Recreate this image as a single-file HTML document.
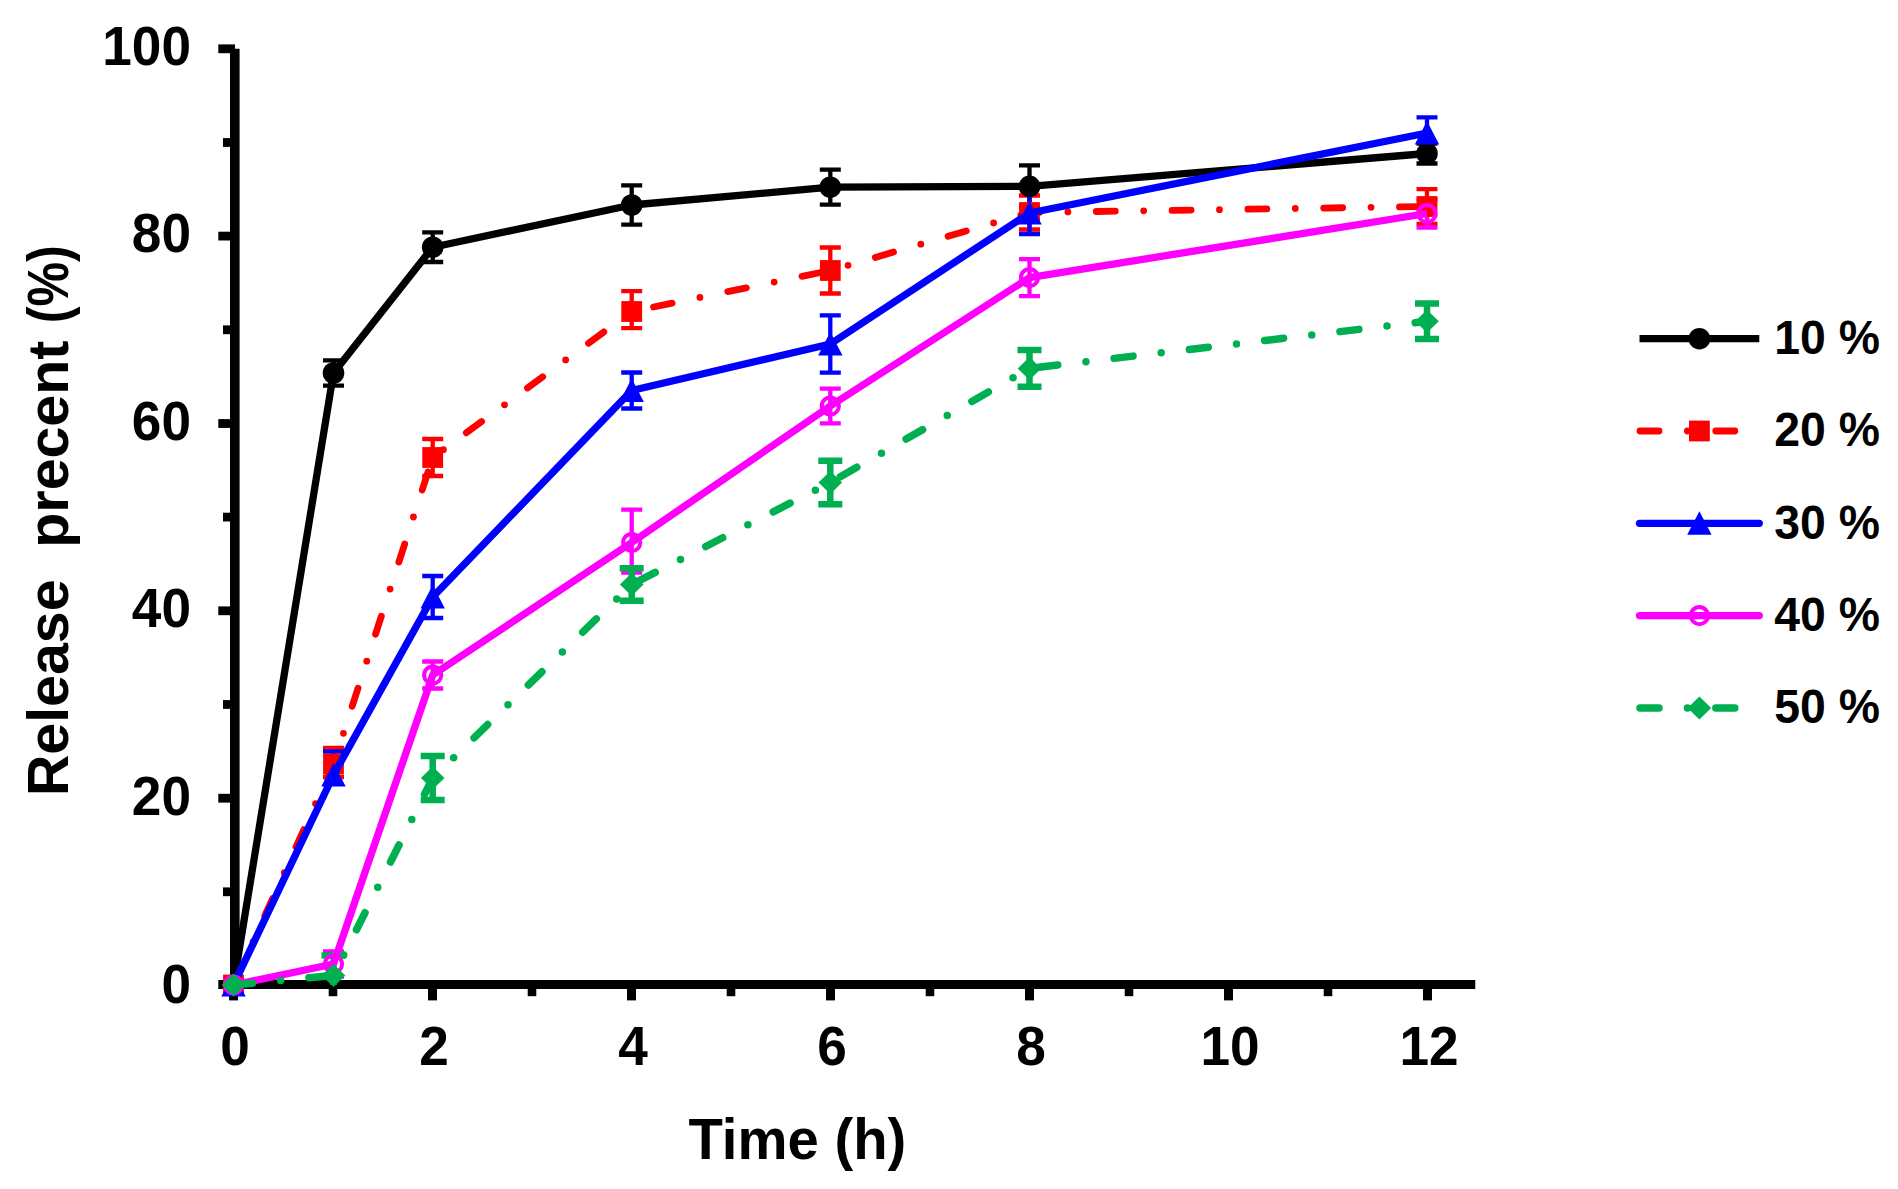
<!DOCTYPE html>
<html lang="en"><head><meta charset="utf-8"><title>Release percent vs time</title>
<style>html,body{margin:0;padding:0;background:#fff}svg{display:block}text{font-family:"Liberation Sans",Arial,Helvetica,sans-serif;font-weight:700;fill:#000}</style>
</head><body>
<svg width="1898" height="1189" viewBox="0 0 1898 1189">
<rect width="1898" height="1189" fill="#fff"/>
<defs><clipPath id="plot"><rect x="200" y="0" width="1400" height="985"/></clipPath></defs>
<g stroke="#000" fill="none">
<line x1="234.8" y1="48.8" x2="234.8" y2="989" stroke-width="9.6"/>
<line x1="218.3" y1="984.5" x2="1475.3" y2="984.5" stroke-width="8.8"/>
<line x1="223" y1="891.8" x2="235" y2="891.8" stroke-width="8.8"/>
<line x1="218.3" y1="798.2" x2="235" y2="798.2" stroke-width="8.8"/>
<line x1="223" y1="704.5" x2="235" y2="704.5" stroke-width="8.8"/>
<line x1="218.3" y1="610.8" x2="235" y2="610.8" stroke-width="8.8"/>
<line x1="223" y1="517.1" x2="235" y2="517.1" stroke-width="8.8"/>
<line x1="218.3" y1="423.5" x2="235" y2="423.5" stroke-width="8.8"/>
<line x1="223" y1="329.8" x2="235" y2="329.8" stroke-width="8.8"/>
<line x1="218.3" y1="236.1" x2="235" y2="236.1" stroke-width="8.8"/>
<line x1="223" y1="142.5" x2="235" y2="142.5" stroke-width="8.8"/>
<line x1="218.3" y1="48.8" x2="235" y2="48.8" stroke-width="8.8"/>
<line x1="233.5" y1="984" x2="233.5" y2="1000.4" stroke-width="9"/>
<line x1="333.0" y1="984" x2="333.0" y2="996.2" stroke-width="8.6"/>
<line x1="432.5" y1="984" x2="432.5" y2="1000.4" stroke-width="9"/>
<line x1="532.0" y1="984" x2="532.0" y2="996.2" stroke-width="8.6"/>
<line x1="631.5" y1="984" x2="631.5" y2="1000.4" stroke-width="9"/>
<line x1="731.0" y1="984" x2="731.0" y2="996.2" stroke-width="8.6"/>
<line x1="830.5" y1="984" x2="830.5" y2="1000.4" stroke-width="9"/>
<line x1="930.0" y1="984" x2="930.0" y2="996.2" stroke-width="8.6"/>
<line x1="1029.5" y1="984" x2="1029.5" y2="1000.4" stroke-width="9"/>
<line x1="1129.0" y1="984" x2="1129.0" y2="996.2" stroke-width="8.6"/>
<line x1="1228.5" y1="984" x2="1228.5" y2="1000.4" stroke-width="9"/>
<line x1="1328.0" y1="984" x2="1328.0" y2="996.2" stroke-width="8.6"/>
<line x1="1427.5" y1="984" x2="1427.5" y2="1000.4" stroke-width="9"/>
</g>
<g font-size="54" text-anchor="end">
<text transform="translate(191,64.5) scale(0.985,1.025)">100</text>
<text transform="translate(191,252.1) scale(0.985,1.025)">80</text>
<text transform="translate(191,439.7) scale(0.985,1.025)">60</text>
<text transform="translate(191,627.3) scale(0.985,1.025)">40</text>
<text transform="translate(191,814.9) scale(0.985,1.025)">20</text>
<text transform="translate(191,1002.5) scale(0.985,1.025)">0</text>
</g>
<g font-size="54" text-anchor="middle">
<text transform="translate(235.1,1065.0) scale(0.985,1.025)">0</text>
<text transform="translate(434.1,1065.0) scale(0.985,1.025)">2</text>
<text transform="translate(633.1,1065.0) scale(0.985,1.025)">4</text>
<text transform="translate(832.1,1065.0) scale(0.985,1.025)">6</text>
<text transform="translate(1031.1,1065.0) scale(0.985,1.025)">8</text>
<text transform="translate(1230.1,1065.0) scale(0.985,1.025)">10</text>
<text transform="translate(1429.1,1065.0) scale(0.985,1.025)">12</text>
</g>
<text transform="translate(797.4,1158.9) scale(1.005,1.02)" font-size="56" text-anchor="middle">Time (h)</text>
<text transform="translate(67.8,796) rotate(-90) scale(1.023,1.04)" font-size="56" xml:space="preserve">Release  precent</text>
<text transform="translate(67.8,245.2) rotate(-90) scale(0.895,1.03)" font-size="56" text-anchor="end">(%)</text>
<g clip-path="url(#plot)">
<g stroke="#000000" stroke-width="4.3" fill="none">
<path d="M333.5 360.4V385.6M323.0 360.4H344.0M323.0 385.6H344.0"/>
<path d="M432.7 232.4V262.0M422.2 232.4H443.2M422.2 262.0H443.2"/>
<path d="M631.7 185.3V224.7M621.2 185.3H642.2M621.2 224.7H642.2"/>
<path d="M830.3 169.7V204.7M819.8 169.7H840.8M819.8 204.7H840.8"/>
<path d="M1029.5 165.4V207.4M1019.0 165.4H1040.0M1019.0 207.4H1040.0"/>
<path d="M1427.0 143.5V163.5M1416.5 143.5H1437.5M1416.5 163.5H1437.5"/>
</g>
<g stroke="#ff0000" stroke-width="4.3" fill="none">
<path d="M333.5 748.0V777.0M323.0 748.0H344.0M323.0 777.0H344.0"/>
<path d="M432.7 439.0V476.0M422.2 439.0H443.2M422.2 476.0H443.2"/>
<path d="M631.7 291.2V328.2M621.2 291.2H642.2M621.2 328.2H642.2"/>
<path d="M830.3 247.5V293.5M819.8 247.5H840.8M819.8 293.5H840.8"/>
<path d="M1029.5 195.5V229.5M1019.0 195.5H1040.0M1019.0 229.5H1040.0"/>
<path d="M1427.0 189.2V223.8M1416.5 189.2H1437.5M1416.5 223.8H1437.5"/>
</g>
<g stroke="#0000ff" stroke-width="4.3" fill="none">
<path d="M333.5 751.5V775.0M323.0 751.5H344.0"/>
<path d="M432.7 576.0V618.0M422.2 576.0H443.2M422.2 618.0H443.2"/>
<path d="M631.7 372.5V408.5M621.2 372.5H642.2M621.2 408.5H642.2"/>
<path d="M830.3 315.4V372.6M819.8 315.4H840.8M819.8 372.6H840.8"/>
<path d="M1029.5 192.0V234.0M1019.0 234.0H1040.0"/>
<path d="M1427.0 117.4V133.0M1416.5 117.4H1437.5"/>
</g>
<g stroke="#ff00ff" stroke-width="4.3" fill="none">
<path d="M333.5 951.5V976.5M323.0 951.5H344.0M323.0 976.5H344.0"/>
<path d="M432.7 661.5V688.5M422.2 661.5H443.2M422.2 688.5H443.2"/>
<path d="M631.7 509.7V572.5M621.2 509.7H642.2M621.2 572.5H642.2"/>
<path d="M830.3 388.6V423.4M819.8 388.6H840.8M819.8 423.4H840.8"/>
<path d="M1029.5 259.1V296.1M1019.0 259.1H1040.0M1019.0 296.1H1040.0"/>
<path d="M1427.0 199.5V227.5M1416.5 199.5H1437.5M1416.5 227.5H1437.5"/>
</g>
<g stroke="#00b050" stroke-width="6.5" fill="none">
<path d="M333.5 955.4V995.4M321.5 955.4H345.5M321.5 995.4H345.5"/>
<path d="M432.7 756.0V800.0M420.7 756.0H444.7M420.7 800.0H444.7"/>
<path d="M631.7 568.3V600.7M619.7 568.3H643.7M619.7 600.7H643.7"/>
<path d="M830.3 460.7V504.3M818.3 460.7H842.3M818.3 504.3H842.3"/>
<path d="M1029.5 350.0V386.8M1017.5 350.0H1041.5M1017.5 386.8H1041.5"/>
<path d="M1427.0 303.6V339.0M1415.0 303.6H1439.0M1415.0 339.0H1439.0"/>
</g>
</g>
<polyline points="233.5,985 333.5,373 432.7,247.2 631.7,205 830.3,187.2 1029.5,186.4 1427.0,153.5" fill="none" stroke="#000000" stroke-width="7.3" stroke-linejoin="round"/>
<circle cx="233.5" cy="985" r="10.8" fill="#000000"/>
<circle cx="333.5" cy="373" r="10.8" fill="#000000"/>
<circle cx="432.7" cy="247.2" r="10.8" fill="#000000"/>
<circle cx="631.7" cy="205" r="10.8" fill="#000000"/>
<circle cx="830.3" cy="187.2" r="10.8" fill="#000000"/>
<circle cx="1029.5" cy="186.4" r="10.8" fill="#000000"/>
<circle cx="1427.0" cy="153.5" r="10.8" fill="#000000"/>
<polyline points="233.5,985 333.5,764 432.7,457.5 631.7,311.5 830.3,270.5 1029.5,212.5 1427.0,206.5" fill="none" stroke="#ff0000" stroke-width="6.8" stroke-linejoin="round" stroke-dasharray="19 28.4 0 28.4" stroke-linecap="round"/>
<rect x="223.1" y="974.6" width="20.8" height="20.8" fill="#ff0000"/>
<rect x="323.1" y="753.6" width="20.8" height="20.8" fill="#ff0000"/>
<rect x="422.3" y="447.1" width="20.8" height="20.8" fill="#ff0000"/>
<rect x="621.3" y="301.1" width="20.8" height="20.8" fill="#ff0000"/>
<rect x="819.9" y="260.1" width="20.8" height="20.8" fill="#ff0000"/>
<rect x="1019.1" y="202.1" width="20.8" height="20.8" fill="#ff0000"/>
<rect x="1416.6" y="196.1" width="20.8" height="20.8" fill="#ff0000"/>
<polyline points="233.5,985 333.5,775 432.7,597 631.7,390.5 830.3,344 1029.5,213 1427.0,133" fill="none" stroke="#0000ff" stroke-width="7.3" stroke-linejoin="round"/>
<polygon points="233.5,973.0 245.7,996.5 221.3,996.5" fill="#0000ff"/>
<polygon points="333.5,763.0 345.7,786.5 321.3,786.5" fill="#0000ff"/>
<polygon points="432.7,585.0 444.9,608.5 420.5,608.5" fill="#0000ff"/>
<polygon points="631.7,378.5 643.9,402.0 619.5,402.0" fill="#0000ff"/>
<polygon points="830.3,332.0 842.5,355.5 818.1,355.5" fill="#0000ff"/>
<polygon points="1029.5,201.0 1041.7,224.5 1017.3,224.5" fill="#0000ff"/>
<polygon points="1427.0,121.0 1439.2,144.5 1414.8,144.5" fill="#0000ff"/>
<polyline points="233.5,985 333.5,964 432.7,675 631.7,542.5 830.3,406 1029.5,277.6 1427.0,213.5" fill="none" stroke="#ff00ff" stroke-width="7.3" stroke-linejoin="round"/>
<circle cx="233.5" cy="985" r="8.6" fill="none" stroke="#ff00ff" stroke-width="4"/>
<circle cx="333.5" cy="964" r="8.6" fill="none" stroke="#ff00ff" stroke-width="4"/>
<circle cx="432.7" cy="675" r="8.6" fill="none" stroke="#ff00ff" stroke-width="4"/>
<circle cx="631.7" cy="542.5" r="8.6" fill="none" stroke="#ff00ff" stroke-width="4"/>
<circle cx="830.3" cy="406" r="8.6" fill="none" stroke="#ff00ff" stroke-width="4"/>
<circle cx="1029.5" cy="277.6" r="8.6" fill="none" stroke="#ff00ff" stroke-width="4"/>
<circle cx="1427.0" cy="213.5" r="8.6" fill="none" stroke="#ff00ff" stroke-width="4"/>
<polyline points="233.5,985 333.5,975.4 432.7,778 631.7,584.5 830.3,482.5 1029.5,368.4 1427.0,321.3" fill="none" stroke="#00b050" stroke-width="7.5" stroke-linejoin="round" stroke-dasharray="19 28.4 0 28.4" stroke-linecap="round"/>
<polygon points="233.5,973.5 245.3,985 233.5,996.5 221.7,985" fill="#00b050"/>
<polygon points="333.5,963.9 345.3,975.4 333.5,986.9 321.7,975.4" fill="#00b050"/>
<polygon points="432.7,766.5 444.5,778 432.7,789.5 420.9,778" fill="#00b050"/>
<polygon points="631.7,573.0 643.5,584.5 631.7,596.0 619.9,584.5" fill="#00b050"/>
<polygon points="830.3,471.0 842.1,482.5 830.3,494.0 818.5,482.5" fill="#00b050"/>
<polygon points="1029.5,356.9 1041.3,368.4 1029.5,379.9 1017.7,368.4" fill="#00b050"/>
<polygon points="1427.0,309.8 1438.8,321.3 1427.0,332.8 1415.2,321.3" fill="#00b050"/>
<line x1="1639.5" y1="338.7" x2="1759.3" y2="338.7" stroke="#000000" stroke-width="7.3" stroke-linecap="butt"/>
<circle cx="1699.4" cy="338.7" r="10.8" fill="#000000"/>
<text transform="translate(1774.3,354.1) scale(0.966,1.02)" font-size="48">10 %</text>
<line x1="1640" y1="431.0" x2="1759" y2="431.0" stroke="#ff0000" stroke-width="6.8" stroke-dasharray="19 28.4 0 28.4" stroke-linecap="round"/>
<rect x="1689.0" y="420.6" width="20.8" height="20.8" fill="#ff0000"/>
<text transform="translate(1774.3,446.4) scale(0.966,1.02)" font-size="48">20 %</text>
<line x1="1639.5" y1="523.3" x2="1759.3" y2="523.3" stroke="#0000ff" stroke-width="7.3" stroke-linecap="round"/>
<polygon points="1699.4,511.3 1711.6,534.8 1687.2,534.8" fill="#0000ff"/>
<text transform="translate(1774.3,538.7) scale(0.966,1.02)" font-size="48">30 %</text>
<line x1="1639.5" y1="615.6" x2="1759.3" y2="615.6" stroke="#ff00ff" stroke-width="7.3" stroke-linecap="round"/>
<circle cx="1699.4" cy="615.6" r="8.6" fill="none" stroke="#ff00ff" stroke-width="4"/>
<text transform="translate(1774.3,631.0) scale(0.966,1.02)" font-size="48">40 %</text>
<line x1="1640" y1="707.9" x2="1759" y2="707.9" stroke="#00b050" stroke-width="7.5" stroke-dasharray="19 28.4 0 28.4" stroke-linecap="round"/>
<polygon points="1699.4,696.4 1711.2,707.9 1699.4,719.4 1687.6,707.9" fill="#00b050"/>
<text transform="translate(1774.3,723.3) scale(0.966,1.02)" font-size="48">50 %</text>
</svg>
</body></html>
